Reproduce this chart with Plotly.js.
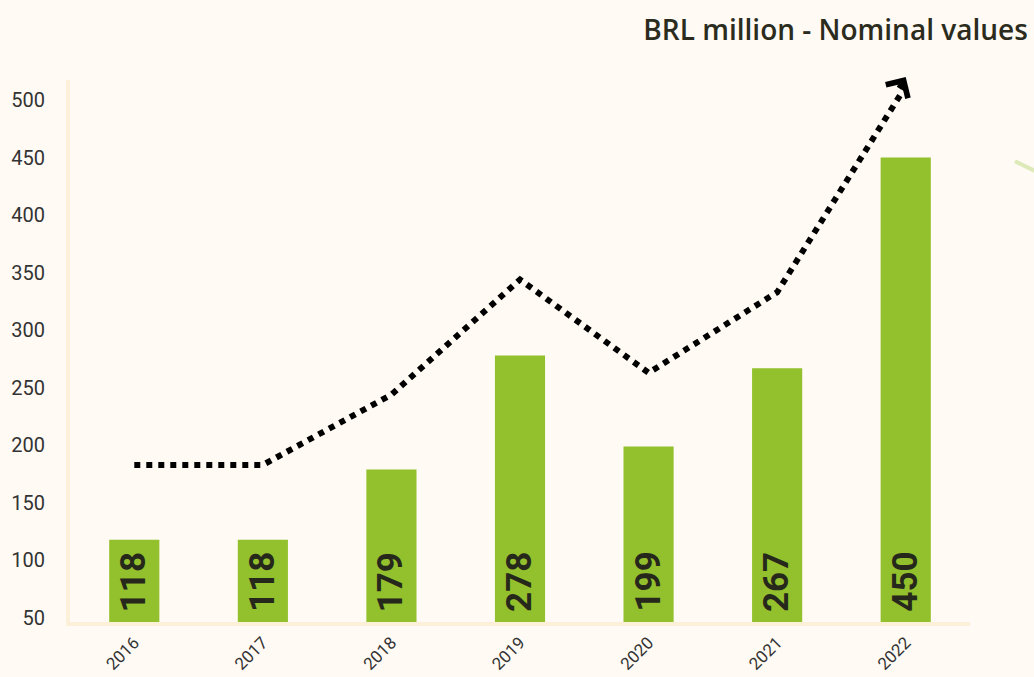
<!DOCTYPE html>
<html>
<head>
<meta charset="utf-8">
<script src="https://cdn.plot.ly/plotly-3.0.1.min.js"></script>
<style>html,body{margin:0;padding:0;background:#fffaf3;}#chart{width:1034px;height:677px;}</style>
</head>
<body>
<div id="chart"></div>
<script>
const years = ['2016','2017','2018','2019','2020','2021','2022'];
const barValues = [118, 118, 179, 278, 199, 267, 450];
const trendValues = [183, 183, 244, 344, 263, 333, 512];
const yTicks = [50, 100, 150, 200, 250, 300, 350, 400, 450, 500];
const titleText = 'BRL million - Nominal values';

const yMin = 46.5, yMax = 517.4;
const n = years.length;

const bars = {
  type: 'bar',
  x: years,
  y: barValues,
  marker: {color: '#93c02d'},
  hoverinfo: 'skip'
};
const trend = {
  type: 'scatter',
  mode: 'lines',
  x: years,
  y: trendValues,
  line: {color: '#000000', width: 6, dash: 'dot'},
  hoverinfo: 'skip'
};

const barLabels = years.map((yr, i) => ({
  x: i, y: yMin + 7, xref: 'x', yref: 'y',
  text: '<b>' + barValues[i] + '</b>', showarrow: false,
  textangle: -90, xanchor: 'center', yanchor: 'bottom',
  font: {family: 'Roboto, sans-serif', size: 35, color: '#27281c'}
}));

const layout = {
  width: 1034, height: 677,
  paper_bgcolor: '#fffaf3',
  plot_bgcolor: '#fffaf3',
  margin: {l: 70, r: 64, t: 80, b: 55},
  showlegend: false,
  bargap: 0.61,
  title: {text: titleText, x: 0.994, xanchor: 'right', y: 0.955, yanchor: 'middle',
    font: {family: 'Open Sans, sans-serif', size: 28, color: '#2b2c1e', weight: 600}},
  xaxis: {
    type: 'category', range: [-0.5, n - 0.5],
    showline: true, linecolor: '#fdf0d8', linewidth: 4,
    showgrid: false, zeroline: false, ticks: '',
    tickangle: -45,
    tickfont: {family: 'Roboto, sans-serif', size: 17, color: '#333333'}
  },
  yaxis: {
    range: [yMin, yMax],
    tickvals: yTicks,
    showline: true, linecolor: '#fdf0d8', linewidth: 4,
    showgrid: false, zeroline: false, ticks: '',
    ticklabelstandoff: 17,
    tickfont: {family: 'Roboto, sans-serif', size: 20, color: '#333333'}
  },
  annotations: barLabels.concat([{
    x: n - 1, y: trendValues[n - 1] + 8, xref: 'x', yref: 'y',
    ax: n - 1 - 0.06, ay: trendValues[n - 1] - 3, axref: 'x', ayref: 'y',
    showarrow: true, arrowhead: 4, arrowsize: 1, arrowwidth: 5, arrowcolor: '#000000', text: ''
  }]),
  shapes: [{
    type: 'line', xref: 'paper', yref: 'paper',
    x0: 1.05, y0: 0.85, x1: 1.075, y1: 0.83,
    line: {color: '#dde9b8', width: 4}
  }]
};
Plotly.newPlot('chart', [bars, trend], layout, {displayModeBar: false, staticPlot: true});
</script>
</body>
</html>
